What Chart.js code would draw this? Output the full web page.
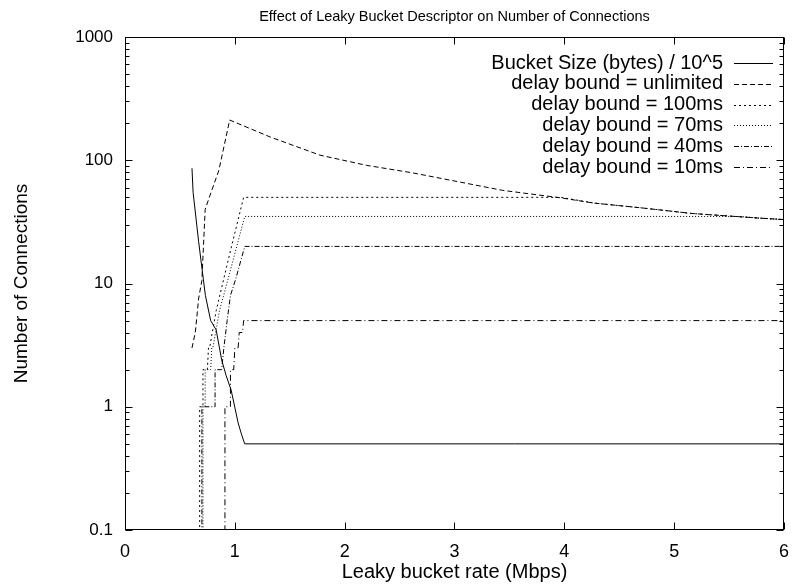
<!DOCTYPE html>
<html>
<head>
<meta charset="utf-8">
<script src="https://cdn.jsdelivr.net/npm/chart.js@4.4.1/dist/chart.umd.min.js"></script>
<style>
  html, body { margin: 0; padding: 0; background: #fff; }
  #wrap { width: 800px; height: 584px; }
</style>
</head>
<body>
<div id="wrap"><canvas id="chart" width="800" height="584"></canvas></div>
<script>
// leaky bucket rate (Mbps) and the value measured at that rate, one pair of arrays per curve
const bucketRate = [0.61, 0.62, 0.67, 0.714, 0.732, 0.78, 0.83, 0.88, 0.92, 0.966, 1.03, 1.06, 1.09, 6.0];
const bucketSize = [86, 55, 22, 10.7, 8.0, 5.0, 4.2, 2.4, 1.8, 1.37, 0.74, 0.6, 0.5, 0.5];

const unlimitedRate = [0.61, 0.64, 0.67, 0.70, 0.73, 0.79, 0.855, 0.953, 1.325, 1.775, 2.197, 2.619, 3.032, 3.436, 3.97, 4.263, 4.71, 5.16, 5.76, 6.0];
const unlimitedConn = [3, 4, 7.5, 10.6, 40, 57, 83, 212, 154, 110, 91, 79, 67, 57, 49.5, 45, 41, 37, 34, 33];

const d100Rate = [0.60, 0.68, 0.68, 0.71, 0.71, 0.75, 0.76, 0.77, 0.83, 0.90, 0.97, 1.08, 3.97, 4.263, 4.71, 5.16, 5.76, 6.0];
const d100Conn = [0, 0, 1, 1, 2, 2, 3, 3, 6, 11, 20, 50, 50, 45, 41, 37, 34, 33];

const d70Rate = [0.60, 0.71, 0.71, 0.73, 0.73, 0.78, 0.79, 0.80, 0.86, 0.94, 1.09, 5.6, 5.76, 6.0];
const d70Conn = [0, 0, 1, 1, 2, 2, 3, 3, 6, 11, 35, 35, 34, 33];

const d40Rate = [0.60, 0.70, 0.70, 0.82, 0.82, 0.88, 0.90, 0.93, 0.96, 1.01, 1.09, 6.0];
const d40Conn = [0, 0, 1, 1, 2, 2, 3, 5, 8, 11, 20, 20];

const d10Rate = [0.60, 0.91, 0.91, 0.96, 0.96, 0.99, 1.00, 1.03, 1.04, 1.07, 1.08, 6.0];
const d10Conn = [0, 0, 1, 1, 2, 2, 3, 3, 4, 4, 5, 5];

const seriesLabels = [
  'Bucket Size (bytes) / 10^5',
  'delay bound = unlimited',
  'delay bound = 100ms',
  'delay bound = 70ms',
  'delay bound = 40ms',
  'delay bound = 10ms'
];

const xTickLabels = ['0', '1', '2', '3', '4', '5', '6'];
const yTickLabels = ['0.1', '1', '10', '100', '1000'];
const yTickValues = [0.1, 1, 10, 100, 1000];

// zero connections sits below the bottom of the log axis and gets clipped
const ZERO = 0.01;

function toPoints(xs, ys) {
  return xs.map((x, i) => ({ x: x, y: ys[i] > 0 ? ys[i] : ZERO }));
}

const FONT = '"Liberation Sans", Arial, Helvetica, sans-serif';

const dashes = [[], [5, 3], [2, 3], [1, 2], [5, 2, 1, 2], [6, 3, 1, 3]];
const curves = [
  [bucketRate, bucketSize],
  [unlimitedRate, unlimitedConn],
  [d100Rate, d100Conn],
  [d70Rate, d70Conn],
  [d40Rate, d40Conn],
  [d10Rate, d10Conn]
];

const datasets = curves.map((c, i) => ({
  label: seriesLabels[i],
  data: toPoints(c[0], c[1]),
  borderColor: '#000',
  borderWidth: 1,
  borderDash: dashes[i],
  pointRadius: 0,
  tension: 0,
  fill: false
}));

// frame, inward ticks, titles and the key, drawn gnuplot style
const gnuplotDecor = {
  id: 'gnuplotDecor',
  afterDraw(chart) {
    const ctx = chart.ctx;
    const a = chart.chartArea;
    const xs = chart.scales.x;
    const ys = chart.scales.y;
    const L = Math.round(a.left) + 0.5, R = Math.round(a.right) - 0.5;
    const T = Math.round(a.top) + 0.5, B = Math.round(a.bottom) - 0.5;

    ctx.save();
    ctx.strokeStyle = '#000';
    ctx.lineWidth = 1;
    ctx.setLineDash([]);
    ctx.strokeRect(L, T, R - L, B - T);

    ctx.beginPath();
    for (let v = 0; v <= 6; v++) {
      const px = Math.round(xs.getPixelForValue(v)) + 0.5;
      ctx.moveTo(px, B); ctx.lineTo(px, B - 7);
      ctx.moveTo(px, T); ctx.lineTo(px, T + 7);
    }
    for (let e = -1; e <= 3; e++) {
      for (let m = 1; m <= 9; m++) {
        const v = m * Math.pow(10, e);
        if (v > 1000) break;
        const py = Math.round(ys.getPixelForValue(v)) + 0.5;
        const len = m === 1 ? 7 : 4;
        ctx.moveTo(L, py); ctx.lineTo(L + len, py);
        ctx.moveTo(R, py); ctx.lineTo(R - len, py);
      }
    }
    ctx.stroke();

    ctx.fillStyle = '#000';
    ctx.font = '14.5px ' + FONT;
    ctx.textAlign = 'center';
    ctx.textBaseline = 'middle';
    const cx = (a.left + a.right) / 2;
    ctx.fillText('Effect of Leaky Bucket Descriptor on Number of Connections', cx, 17);

    ctx.font = '20px ' + FONT;
    ctx.fillText('Leaky bucket rate (Mbps)', cx, 572);

    ctx.save();
    ctx.font = '19px ' + FONT;
    ctx.translate(22, (a.top + a.bottom) / 2);
    ctx.rotate(-Math.PI / 2);
    ctx.fillText('Number of Connections', 0, 0);
    ctx.restore();

    // key in the upper right corner
    ctx.font = '20px ' + FONT;
    ctx.textAlign = 'right';
    chart.data.datasets.forEach((ds, i) => {
      const y = 63 + i * 20.8;
      ctx.fillText(ds.label, 723, y);
      ctx.beginPath();
      ctx.setLineDash(ds.borderDash);
      ctx.moveTo(734, Math.round(y) + 0.5);
      ctx.lineTo(773, Math.round(y) + 0.5);
      ctx.stroke();
    });
    ctx.restore();
  }
};

new Chart(document.getElementById('chart'), {
  type: 'line',
  data: { datasets: datasets },
  options: {
    responsive: false,
    devicePixelRatio: 1,
    animation: false,
    layout: { padding: { left: 0, right: 8, top: 37, bottom: 0 } },
    plugins: {
      legend: { display: false },
      tooltip: { enabled: false },
      title: { display: false }
    },
    scales: {
      x: {
        type: 'linear',
        min: 0,
        max: 6,
        grid: { display: false, drawTicks: false },
        border: { display: false },
        afterFit: s => { s.height = 54; },
        afterBuildTicks: s => { s.ticks = xTickLabels.map((t, i) => ({ value: i })); },
        ticks: {
          padding: 11,
          color: '#000',
          font: { family: FONT, size: 18 },
          maxRotation: 0,
          callback: (v, i) => xTickLabels[i]
        }
      },
      y: {
        type: 'logarithmic',
        min: 0.1,
        max: 1000,
        grid: { display: false, drawTicks: false },
        border: { display: false },
        afterFit: s => { s.width = 125; },
        afterBuildTicks: s => { s.ticks = yTickValues.map(v => ({ value: v })); },
        ticks: {
          padding: 12,
          color: '#000',
          font: { family: FONT, size: 17 },
          callback: (v, i) => yTickLabels[i]
        }
      }
    }
  },
  plugins: [gnuplotDecor]
});
</script>
</body>
</html>
